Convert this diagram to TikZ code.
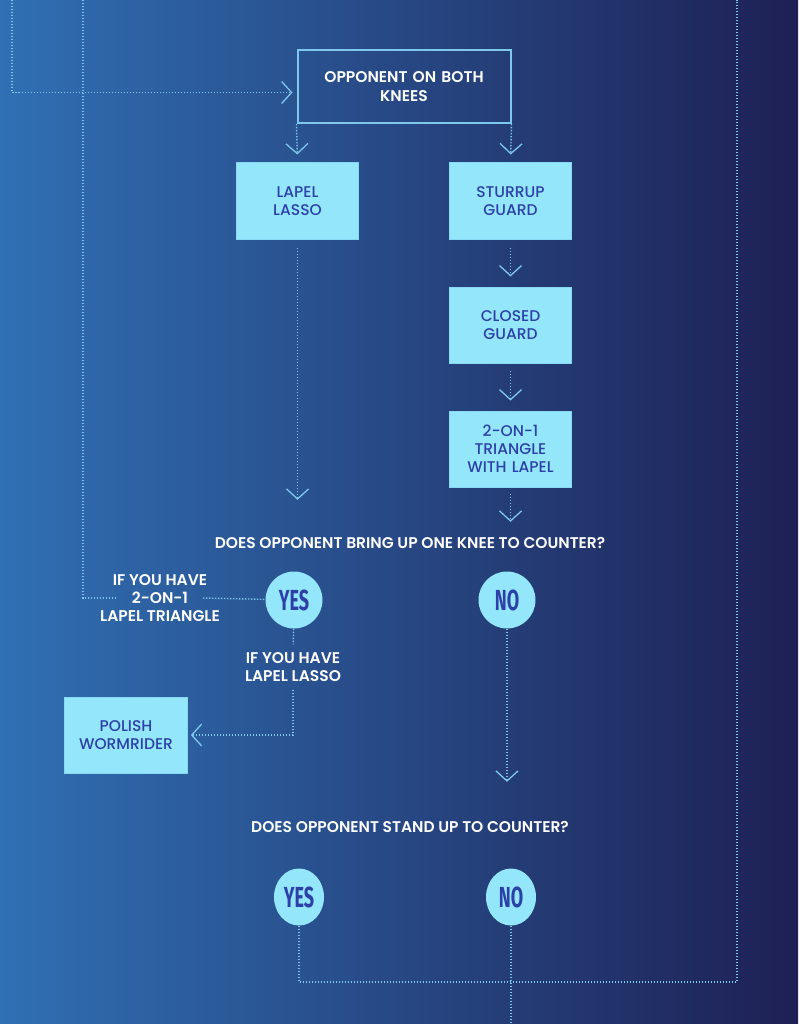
\documentclass[tikz,border=0pt]{standalone}
\usepackage{fontspec}
\setmainfont{Poppins}
\newfontfamily\medfont{Poppins Medium}
\newfontfamily\semifont{Poppins SemiBold}
\newfontfamily\ansfont[FakeStretch=0.62]{Fira Sans}
\usetikzlibrary{arrows.meta, positioning, shapes.geometric}
\definecolor{bgL}{RGB}{48,112,180}
\definecolor{bgM}{RGB}{35,74,138}
\definecolor{bgR}{RGB}{30,32,84}
\definecolor{lineblue}{RGB}{125,200,236}
\definecolor{boxfill}{RGB}{148,230,251}
\definecolor{boxtext}{RGB}{45,64,168}
\begin{document}
\begin{tikzpicture}[x=1pt, y=1pt,
  >={Straight Barb[length=10pt, width=22pt, line width=1.3pt]},
  box/.style={fill=boxfill, draw=lineblue!50!boxfill, line width=1pt, minimum width=121pt, minimum height=76pt, text width=116pt, align=center, text=boxtext, font=\medfont\fontsize{15.5}{18}\selectfont},
  topbox/.style={draw=lineblue, line width=2pt, minimum width=213pt, minimum height=73pt, text width=200pt, align=center, text=white, font=\semifont\fontsize{15.5}{19}\selectfont},
  ask/.style={text=white, font=\semifont\fontsize{15.5}{18}\selectfont},
  lbl/.style={text=white, align=center, font=\semifont\fontsize{15.5}{18}\selectfont, inner sep=8pt},
  ans/.style={circle, fill=boxfill, minimum size=57pt, inner sep=0pt, text=boxtext, font=\ansfont\bfseries\fontsize{29}{29}\selectfont},
  ansv/.style={ans, ellipse, minimum width=50pt, minimum height=57pt},
  flow/.style={draw=lineblue, line width=1.4pt, dash pattern=on 1.4pt off 1.6pt},
  node distance=47pt]
  \useasboundingbox (0,0) rectangle (798,-1024);
  \shade[left color=bgL, middle color=bgM, right color=bgR] (0,0) rectangle (798,-1024);
  % loop ends coming in from above / leaving below
  \coordinate (topL) at (12,0);
  \coordinate (topM) at (83,0);
  \coordinate (topR) at (737,0);
  \coordinate (loopB) at (737,-982);
  \coordinate (exitB) at (511,-1024);
  % first stage
  \node[topbox] (knees) at (404,-86.5) {OPPONENT ON BOTH\\KNEES};
  \node[box] (lasso) at (297.5,-201) {LAPEL\\LASSO};
  \node[box] (sturrup) at (510.5,-201) {STURRUP\\GUARD};
  \node[box, below=of sturrup] (closed) {CLOSED\\GUARD};
  \node[box, below=of closed] (triangle) {2-ON-1\\TRIANGLE\\WITH LAPEL};
  % first question
  \node[ask] (qknee) at (410,-543) {DOES OPPONENT BRING UP ONE KNEE TO COUNTER?};
  \node[ans] (yesA) at (294,-600) {YES};
  \node[ans] (noA) at (507,-600) {NO};
  \node[lbl] (trilabel) at (160,-598) {IF YOU HAVE\\2-ON-1\\LAPEL TRIANGLE};
  \node[lbl] (lassolabel) at (293,-667) {IF YOU HAVE\\LAPEL LASSO};
  \node[box, minimum width=120pt] (polish) at (126,-735) {POLISH\\WORMRIDER};
  % second question
  \node[ask] (qstand) at (410,-827) {DOES OPPONENT STAND UP TO COUNTER?};
  \node[ansv] (yesB) at (299,-897) {YES};
  \node[ansv] (noB) at (511,-897) {NO};
  % connectors
  \draw[flow, ->, shorten >=4pt] (topL) |- ([yshift=-6pt]knees.west);
  \draw[flow, ->, shorten >=8pt] (knees.south west) -- (lasso.north);
  \draw[flow, ->, shorten >=8pt] (knees.south east) -- (sturrup.north);
  \draw[flow, ->, shorten <=8pt, shorten >=10pt] (sturrup) -- (closed);
  \draw[flow, ->, shorten <=7pt, shorten >=10pt] (closed) -- (triangle);
  \draw[flow, ->, shorten <=6pt, shorten >=12pt] (triangle) -- (triangle |- qknee.north);
  \draw[flow, ->, shorten <=8pt, shorten >=34pt] (lasso) -- (lasso |- qknee.north);
  \draw[flow] (topM) |- ([xshift=-43pt]trilabel.center);
  \draw[flow] ([xshift=43pt]trilabel.center) -- (yesA);
  \draw[flow] (yesA) -- (lassolabel);
  \draw[flow, ->, shorten >=3pt] (lassolabel) |- (polish);
  \draw[flow, ->, shorten >=36pt] (noA) -- (noA |- qstand.north);
  \draw[flow] (yesB) |- (loopB) -- (topR);
  \draw[flow] (noB) -- (exitB);
\end{tikzpicture}
\end{document}
